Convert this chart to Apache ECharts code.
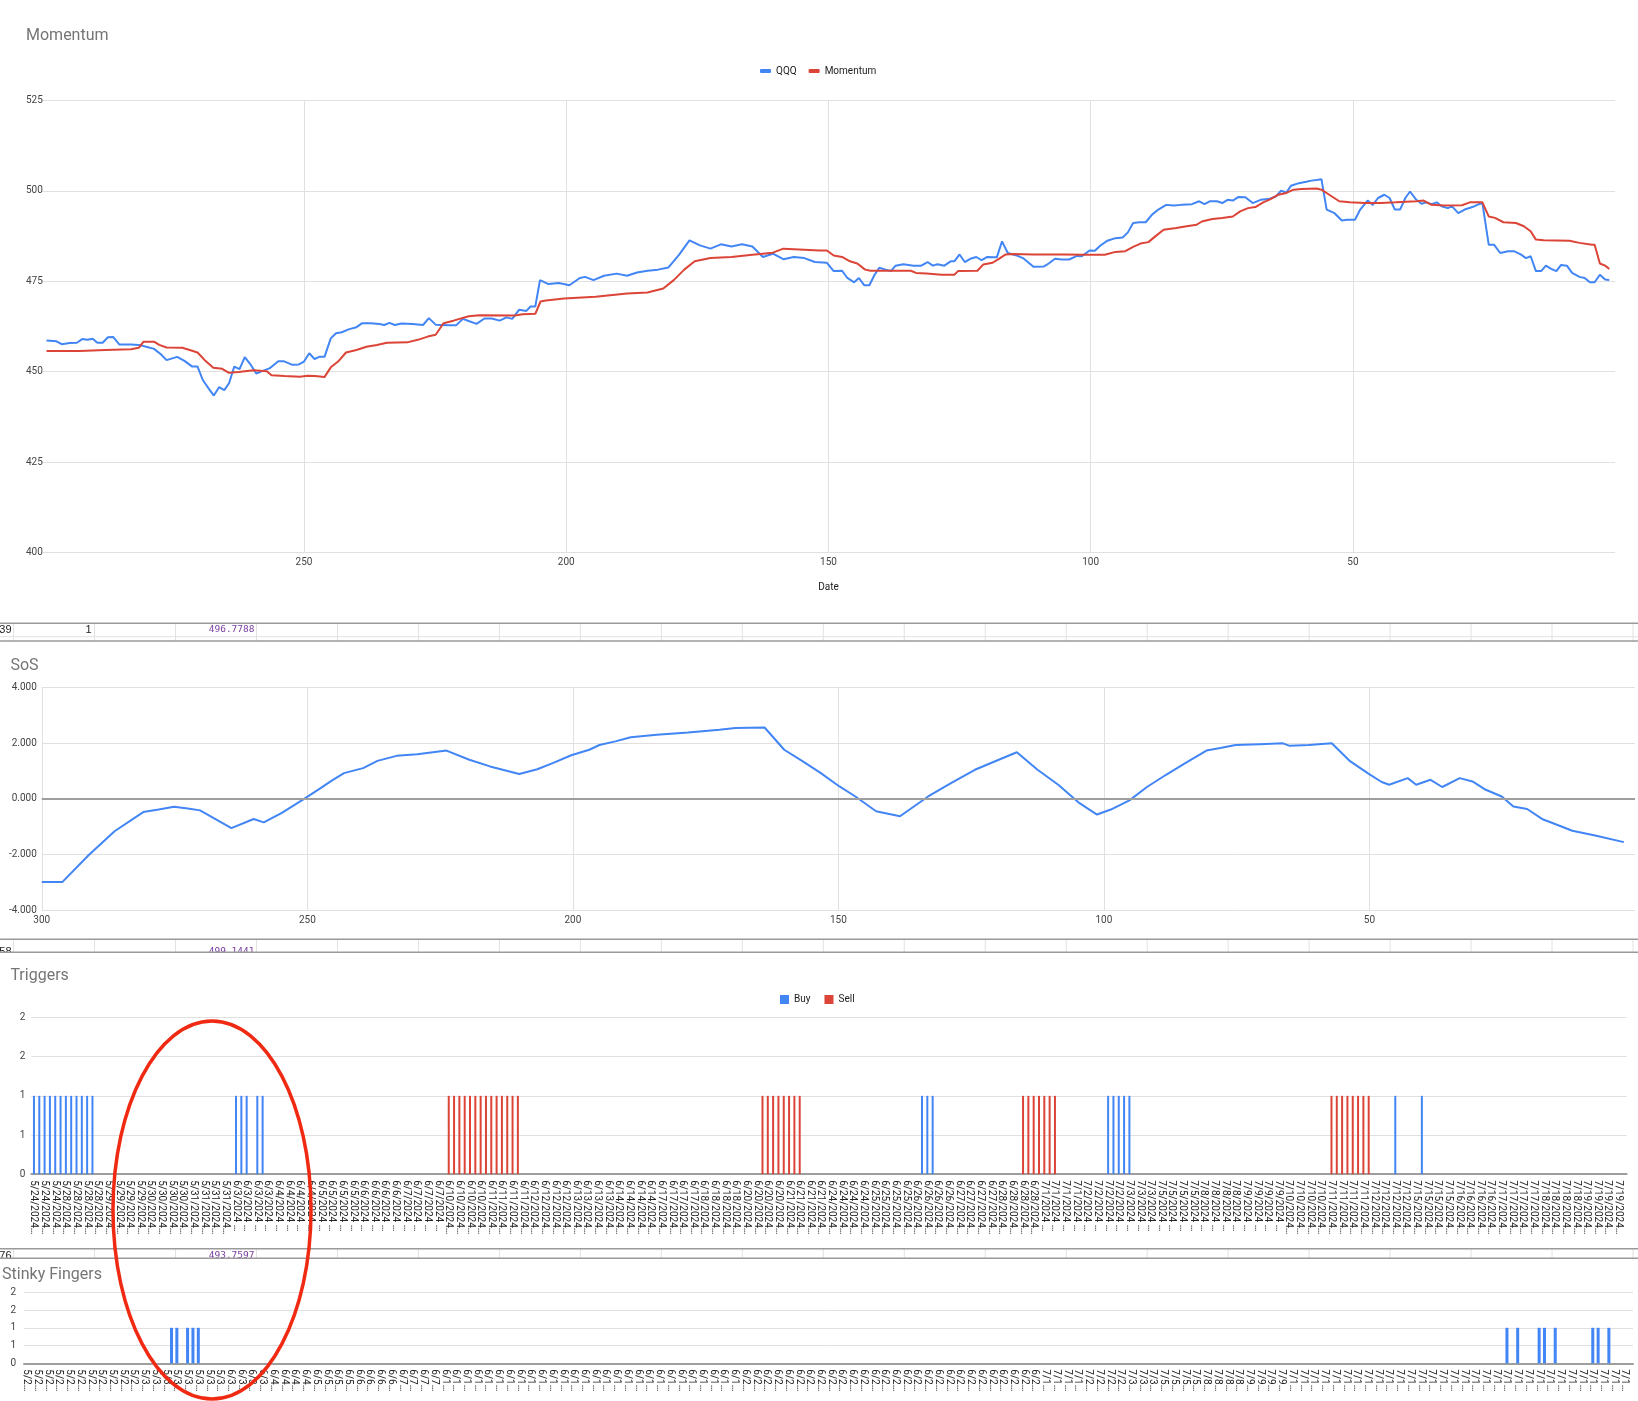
<!DOCTYPE html>
<html><head><meta charset="utf-8">
<script src="https://cdn.jsdelivr.net/npm/echarts@6/dist/echarts.min.js"></script>
<style>html,body{margin:0;padding:0;background:#fff}#c{width:1638px;height:1401px}</style>
</head><body><div id="c"></div>
<script>
// ---------- DATA ----------
// Momentum chart: [row, value]
const qqqPoints = [[299.1,458.6],[297.2,458.4],[296.2,457.6],[294.7,457.9],[293.3,458.0],[292.3,459.0],[291.3,458.8],[290.3,459.1],[289.4,458.0],[288.4,458.0],[287.4,459.5],[286.4,459.6],[285.2,457.5],[283.0,457.5],[281.5,457.4],[280.1,456.9],[278.6,456.3],[277.3,454.8],[276.2,453.2],[274.2,454.1],[272.8,453.0],[271.3,451.4],[270.3,451.4],[269.3,447.7],[268.2,445.4],[267.2,443.4],[266.2,445.7],[265.2,444.9],[264.3,446.8],[263.3,451.4],[262.3,450.7],[261.3,454.0],[260.1,451.8],[259.1,449.5],[258.1,450.1],[256.6,450.9],[254.9,452.9],[253.9,452.9],[252.2,451.9],[251.0,452.0],[250.0,452.8],[249.0,455.1],[248.0,453.5],[247.1,454.1],[246.1,454.1],[244.9,459.2],[243.9,460.6],[242.8,460.9],[241.5,461.7],[240.0,462.3],[238.9,463.4],[237.3,463.4],[235.6,463.2],[234.7,462.9],[233.7,463.5],[232.7,462.9],[231.4,463.3],[229.3,463.2],[227.3,462.9],[226.2,464.8],[224.9,463.0],[222.5,462.8],[221.0,462.8],[219.7,464.6],[218.6,464.0],[217.1,463.2],[215.6,464.7],[214.2,464.7],[212.7,464.1],[211.4,465.0],[210.3,464.6],[209.0,467.1],[207.6,466.8],[206.8,468.0],[205.9,468.0],[205.0,475.3],[203.4,474.2],[201.4,474.5],[199.4,473.9],[197.4,475.9],[196.4,476.2],[194.8,475.3],[192.8,476.5],[190.4,477.1],[188.4,476.5],[186.5,477.4],[184.5,477.9],[182.5,478.2],[180.5,478.8],[178.5,482.3],[176.5,486.3],[174.5,484.9],[172.5,484.0],[170.5,485.2],[168.5,484.6],[166.5,485.2],[164.5,484.6],[162.5,481.7],[160.6,482.6],[158.6,481.1],[156.6,481.7],[154.6,481.4],[152.6,480.3],[150.3,480.1],[149.0,477.8],[147.4,477.9],[146.4,475.9],[145.1,474.7],[144.2,475.9],[143.2,473.9],[142.2,473.9],[141.2,476.8],[140.3,478.7],[139.1,478.2],[138.1,477.8],[137.2,479.3],[135.7,479.7],[133.8,479.3],[132.3,479.3],[131.1,480.3],[130.1,479.3],[129.2,479.7],[127.9,479.3],[126.7,480.5],[126.0,480.5],[125.0,482.4],[124.0,480.3],[122.8,481.3],[121.8,481.7],[120.8,480.8],[119.7,481.7],[118.5,481.6],[117.9,481.6],[116.9,486.0],[115.8,482.8],[114.3,482.2],[112.8,481.3],[110.9,479.0],[108.9,479.1],[108.0,479.9],[106.8,481.2],[105.5,481.0],[104.1,481.0],[102.6,482.0],[101.7,481.9],[100.2,483.5],[99.2,483.4],[98.2,484.8],[96.8,486.2],[95.3,486.9],[93.9,487.1],[92.9,488.5],[91.9,491.1],[90.7,491.3],[89.5,491.3],[88.3,493.4],[87.1,494.8],[85.6,496.1],[84.1,495.9],[82.7,496.1],[80.7,496.3],[79.3,497.1],[78.3,496.3],[77.3,497.1],[75.9,497.1],[74.9,496.6],[73.9,497.5],[72.9,497.3],[71.8,498.3],[70.5,498.2],[69.1,496.6],[67.6,497.5],[66.1,497.7],[64.7,498.4],[63.7,500.0],[62.7,499.5],[61.8,501.4],[60.3,502.1],[58.9,502.5],[57.9,502.8],[56.9,503.0],[56.0,503.2],[55.0,494.8],[53.5,493.8],[52.1,491.8],[51.1,492.0],[49.6,492.0],[48.6,494.8],[47.2,497.3],[46.2,496.1],[45.2,498.0],[44.0,498.9],[43.0,498.0],[42.0,494.8],[41.0,494.8],[40.0,498.0],[39.1,499.8],[37.9,497.5],[36.9,496.4],[36.0,496.8],[35.0,496.3],[34.0,496.8],[33.1,495.7],[31.9,495.2],[31.1,495.7],[29.9,493.8],[28.7,494.8],[27.2,495.5],[26.3,496.1],[25.3,496.6],[24.1,485.1],[23.1,485.1],[21.9,482.8],[20.4,483.3],[19.3,483.3],[18.0,482.4],[17.0,481.4],[16.1,481.9],[15.1,477.8],[14.1,477.8],[13.2,479.3],[12.2,478.4],[11.2,477.8],[10.3,479.5],[9.2,479.3],[8.2,477.3],[6.8,476.2],[5.8,475.9],[4.8,474.7],[3.9,474.7],[2.9,476.8],[1.9,475.5],[1.1,475.3]];

const momentumPoints = [[299.1,455.7],[292.8,455.7],[287.9,456.0],[283.0,456.2],[281.5,456.6],[280.6,458.3],[278.6,458.3],[277.6,457.4],[276.2,456.7],[273.2,456.6],[271.8,456.0],[270.3,455.3],[268.8,453.0],[267.3,451.1],[265.6,450.8],[264.3,449.7],[262.5,449.9],[259.6,450.4],[257.1,450.1],[256.2,449.0],[253.7,448.8],[250.8,448.6],[249.3,448.9],[247.9,448.8],[246.1,448.5],[244.9,451.2],[243.5,452.8],[242.0,455.3],[240.0,456.0],[238.1,456.9],[236.1,457.4],[234.2,458.0],[230.3,458.1],[228.3,458.8],[226.4,459.7],[224.9,460.2],[223.4,463.4],[221.5,464.1],[218.6,465.3],[216.6,465.6],[209.8,465.5],[208.3,465.9],[205.9,466.0],[204.9,469.4],[203.9,469.7],[200.4,470.2],[194.4,470.7],[188.4,471.6],[184.5,471.9],[181.5,473.0],[179.5,475.3],[177.5,478.2],[175.5,480.5],[172.5,481.4],[168.5,481.7],[164.5,482.3],[160.6,482.9],[158.6,484.0],[154.6,483.7],[151.8,483.5],[150.3,483.5],[149.0,482.1],[147.4,481.7],[145.9,480.5],[144.5,479.9],[143.0,478.2],[142.0,477.9],[137.2,477.9],[134.3,477.9],[133.3,477.3],[131.3,477.1],[128.4,476.8],[126.0,476.8],[125.3,477.8],[121.6,477.9],[120.5,479.6],[118.7,480.1],[117.5,481.2],[116.2,482.4],[114.8,482.5],[110.9,482.4],[105.1,482.4],[101.2,482.3],[97.3,482.3],[95.3,483.1],[93.4,483.3],[91.9,484.5],[90.5,485.4],[89.0,485.8],[87.5,487.6],[86.1,489.2],[83.7,489.7],[81.7,490.2],[79.8,490.6],[78.8,491.5],[76.8,492.2],[74.9,492.5],[72.9,492.9],[71.5,494.3],[70.0,495.2],[68.6,495.5],[67.1,496.8],[65.7,497.7],[64.2,498.9],[62.7,499.4],[61.3,500.3],[59.8,500.5],[56.9,500.6],[56.0,500.3],[54.5,498.9],[52.6,497.1],[50.6,496.8],[47.7,496.6],[44.7,496.6],[41.8,496.8],[37.9,497.1],[36.5,497.3],[35.0,496.1],[32.6,495.9],[29.2,496.0],[27.7,496.8],[25.3,496.8],[24.1,492.9],[22.9,492.5],[21.3,491.3],[18.9,491.1],[17.4,490.2],[16.1,488.8],[15.1,486.5],[13.6,486.3],[8.7,486.2],[6.8,485.6],[4.4,485.1],[3.9,485.1],[2.9,479.9],[1.9,479.3],[1.1,478.4]];

// SoS chart: [row, value]
const sosPoints = [[300,-2.99],[296.1,-2.99],[291.2,-2.03],[286.3,-1.17],[280.9,-0.48],[278.0,-0.39],[275.1,-0.29],[272.5,-0.35],[270.2,-0.42],[264.3,-1.06],[260.1,-0.73],[258.2,-0.85],[254.8,-0.51],[250.9,-0.04],[248.0,0.32],[245.4,0.65],[243.1,0.92],[239.5,1.10],[236.8,1.36],[233.2,1.54],[229.3,1.60],[223.8,1.73],[219.5,1.40],[215.6,1.16],[210.1,0.89],[206.7,1.06],[203.8,1.28],[200.3,1.56],[196.9,1.76],[195.0,1.93],[192.0,2.06],[189.1,2.21],[184.2,2.30],[178.3,2.38],[172.4,2.48],[169.4,2.54],[163.9,2.56],[160.2,1.76],[156.7,1.34],[153.3,0.92],[149.8,0.44],[146.8,0.08],[142.9,-0.45],[138.4,-0.63],[133.1,0.08],[128.8,0.56],[124.3,1.04],[119.8,1.40],[116.4,1.67],[112.5,1.04],[108.6,0.50],[104.6,-0.16],[101.3,-0.57],[98.7,-0.39],[95.2,-0.06],[91.9,0.42],[88.3,0.86],[85.0,1.24],[80.7,1.73],[78.1,1.82],[75.2,1.93],[70.7,1.96],[66.3,1.99],[65.0,1.90],[61.4,1.93],[57.1,1.99],[53.6,1.34],[50.2,0.90],[47.7,0.60],[46.3,0.50],[42.8,0.74],[41.2,0.50],[38.5,0.68],[36.3,0.42],[33.0,0.74],[30.6,0.62],[28.1,0.32],[25.1,0.08],[22.9,-0.28],[20.3,-0.37],[17.3,-0.75],[16.4,-0.81],[11.8,-1.15],[7.5,-1.32],[2.1,-1.56]];

// Triggers / Stinky Fingers categories (hourly bars per trading day)
const tradingDays = ['5/24/2024','5/28/2024','5/29/2024','5/30/2024','5/31/2024','6/3/2024','6/4/2024','6/5/2024','6/6/2024','6/7/2024','6/10/2024','6/11/2024','6/12/2024','6/13/2024','6/14/2024','6/17/2024','6/18/2024','6/20/2024','6/21/2024','6/24/2024','6/25/2024','6/26/2024','6/27/2024','6/28/2024','7/1/2024','7/2/2024','7/3/2024','7/5/2024','7/8/2024','7/9/2024','7/10/2024','7/11/2024','7/12/2024','7/15/2024','7/16/2024','7/17/2024','7/18/2024','7/19/2024'];
const barsPerDay = [6,8,8,8,8,8,8,8,8,8,8,8,8,8,8,8,8,8,8,8,8,8,8,8,8,8,6,8,8,8,8,8,8,8,8,8,8,8];
const sessionTimes = ['10:00:00','11:00:00','12:00:00','13:00:00','14:00:00','15:00:00','15:30:00','16:00:00'];
const buyIndex = [0,1,2,3,4,5,6,7,8,9,10,11,38,39,40,42,43,167,168,169,202,203,204,205,206,256,261];
const sellIndex = [78,79,80,81,82,83,84,85,86,87,88,89,90,91,137,138,139,140,141,142,143,144,186,187,188,189,190,191,192,244,245,246,247,248,249,250,251];
const stinkyIndex = [27,28,30,31,32,276,278,282,283,285,292,293,295];

// Visible spreadsheet cells between the charts
const sheetRows = [['39','1','496.7788'],['58','','499.1441'],['76','','493.7597']];

// ---------- BUILD ----------
const categories = [];
tradingDays.forEach((d, i) => {
  const n = barsPerDay[i];
  const times = i === 0 ? sessionTimes.slice(8 - n) : sessionTimes.slice(0, n);
  times.forEach(t => categories.push(d + ' ' + t));
});
function flags(idx) { const a = categories.map(() => '-'); idx.forEach(i => { a[i] = 1; }); return a; }

const GRID = '#e0e0e0';
const LBL = '#444';
const FONT = 'Roboto, "Liberation Sans", Arial, sans-serif';
const BLUE = '#4285f4', RED = '#db4437';

const chart = echarts.init(document.getElementById('c'), null, {renderer: 'canvas'});

function titleAt(text, left, cy) {
  return {text, left, top: cy - 7.5, padding: 0,
    textStyle: {fontSize: 16, fontWeight: 'normal', color: '#757575', lineHeight: 18, fontFamily: FONT}};
}
function rowAxis(grid, hideMax) {
  return {type: 'value', gridIndex: grid, min: 0, max: 300, interval: 50, inverse: true,
    axisLine: {show: false}, axisTick: {show: false},
    axisLabel: {color: LBL, fontSize: 10, margin: 5, fontFamily: FONT,
      formatter: v => (v === 0 || (hideMax && v === 300)) ? '' : String(v)},
    splitLine: {show: true, showMinLine: false, showMaxLine: !hideMax, lineStyle: {color: GRID, width: 1}}};
}
function catAxis(grid, w) {
  return {type: 'category', gridIndex: grid, data: categories, boundaryGap: true,
    axisLine: {show: true, lineStyle: {color: '#9e9e9e', width: 2}}, axisTick: {show: false},
    axisLabel: {interval: 1, rotate: -90, fontSize: 10, color: '#222', fontFamily: FONT, margin: 6,
      width: w, overflow: 'truncate', ellipsis: '…'},
    splitLine: {show: false}};
}
function flagAxis(grid, margin) {
  return {type: 'value', gridIndex: grid, min: 0, max: 2, interval: 0.5,
    axisLine: {show: false}, axisTick: {show: false},
    axisLabel: {color: LBL, fontSize: 10, margin, fontFamily: FONT, formatter: v => String(Math.round(v))},
    splitLine: {lineStyle: {color: GRID}}};
}

// spreadsheet strips graphics
const graphics = [];
const cellX = [];
for (let k = 0; k <= 20; k++) cellX.push(13.6 + 80.97 * k);
function strip(y0, y1, rowLineY, textY, row, clip) {
  cellX.forEach(x => graphics.push({type: 'line', z: 40, shape: {x1: x, y1: y0, x2: x, y2: y1}, style: {stroke: '#e2e2e2', lineWidth: 1}}));
  if (rowLineY) graphics.push({type: 'line', z: 40, shape: {x1: 0, y1: rowLineY, x2: 1638, y2: rowLineY}, style: {stroke: '#e2e2e2', lineWidth: 1}});
  graphics.push({type: 'text', z: 50, x: 11.5, y: textY, style: {text: row[0], fill: '#222', font: '11px "Liberation Sans", Arial', textAlign: 'right', align: 'right', textVerticalAlign: 'middle', verticalAlign: 'middle'}});
  if (row[1]) graphics.push({type: 'text', z: 50, x: 91.5, y: textY, style: {text: row[1], fill: '#222', font: '11px "Liberation Sans", Arial', textAlign: 'right', align: 'right', textVerticalAlign: 'middle', verticalAlign: 'middle'}});
  graphics.push({type: 'text', z: 50, x: 254.5, y: textY, style: {text: row[2], fill: '#7b3fa0', font: '9.5px "DejaVu Sans Mono", monospace', textAlign: 'right', align: 'right', textVerticalAlign: 'middle', verticalAlign: 'middle'}});
  if (clip) graphics.push({type: 'rect', z: 60, shape: {x: 0, y: y1, width: 1638, height: 8}, style: {fill: '#fff'}});
  graphics.push({type: 'line', z: 70, shape: {x1: 0, y1: y0, x2: 1638, y2: y0}, style: {stroke: '#9a9a9a', lineWidth: 1.5}});
  graphics.push({type: 'line', z: 70, shape: {x1: 0, y1: y1, x2: 1638, y2: y1}, style: {stroke: '#9a9a9a', lineWidth: 1.5}});
}
strip(623.3, 641, 636.7, 629.5, sheetRows[0], false);
strip(939.3, 952.3, null, 952, sheetRows[1], true);
strip(1248.8, 1258.2, null, 1255.5, sheetRows[2], true);
graphics.push({type: 'ellipse', z: 200, shape: {cx: 212, cy: 1210, rx: 99, ry: 189},
  style: {fill: 'none', stroke: '#f02a12', lineWidth: 3.5}});

const option = {
  animation: false,
  backgroundColor: '#fff',
  textStyle: {fontFamily: FONT},
  title: [
    titleAt('Momentum', 26, 34.5),
    titleAt('SoS', 10.4, 664.4),
    titleAt('Triggers', 10.4, 974.7),
    titleAt('Stinky Fingers', 2.1, 1273.5)
  ],
  legend: [
    {data: ['QQQ', 'Momentum'], left: 760, top: 65, padding: 0, itemGap: 12,
      itemWidth: 11, itemHeight: 4, icon: 'roundRect',
      textStyle: {fontSize: 10, color: '#222', lineHeight: 12, fontFamily: FONT}},
    {data: ['Buy', 'Sell'], left: 780, top: 993.5, padding: 0, itemGap: 14,
      itemWidth: 9, itemHeight: 9, icon: 'rect',
      textStyle: {fontSize: 10, color: '#222', lineHeight: 12, fontFamily: FONT}}
  ],
  grid: [
    {left: 41.8, top: 100.3, width: 1573.3, height: 452.3},
    {left: 41.8, top: 687.4, width: 1595.9, height: 222.6},
    {left: 31.3, top: 1017.5, width: 1595.3, height: 156.7},
    {left: 24, top: 1292.3, width: 1609, height: 71}
  ],
  xAxis: [
    Object.assign(rowAxis(0, true), {name: 'Date', nameLocation: 'middle', nameGap: 30,
      nameTextStyle: {fontSize: 10, color: '#222', fontFamily: FONT}}),
    rowAxis(1, false),
    catAxis(2, 58),
    catAxis(3, 24)
  ],
  yAxis: [
    {type: 'value', gridIndex: 0, min: 400, max: 525, interval: 25,
      axisLine: {show: false}, axisTick: {show: false},
      axisLabel: {color: LBL, fontSize: 10, margin: -1, fontFamily: FONT},
      splitLine: {lineStyle: {color: GRID}}},
    {type: 'value', gridIndex: 1, min: -4, max: 4, interval: 2,
      axisLine: {show: false}, axisTick: {show: false},
      axisLabel: {color: LBL, fontSize: 10, margin: 5, fontFamily: FONT, formatter: v => v.toFixed(3)},
      splitLine: {lineStyle: {color: GRID}}},
    flagAxis(2, 6),
    flagAxis(3, 8)
  ],
  series: [
    {name: 'QQQ', type: 'line', xAxisIndex: 0, yAxisIndex: 0, data: qqqPoints,
      showSymbol: false, color: BLUE, lineStyle: {width: 2}, z: 3},
    {name: 'Momentum', type: 'line', xAxisIndex: 0, yAxisIndex: 0, data: momentumPoints,
      showSymbol: false, color: RED, lineStyle: {width: 2}, z: 4},
    {name: 'SoS', type: 'line', xAxisIndex: 1, yAxisIndex: 1, data: sosPoints,
      showSymbol: false, color: BLUE, lineStyle: {width: 2},
      markLine: {silent: true, symbol: 'none', label: {show: false},
        lineStyle: {color: '#9e9e9e', width: 2, type: 'solid'}, data: [{yAxis: 0}]}},
    {name: 'Buy', type: 'bar', xAxisIndex: 2, yAxisIndex: 2, data: flags(buyIndex),
      color: BLUE, barWidth: 2, barGap: '-100%'},
    {name: 'Sell', type: 'bar', xAxisIndex: 2, yAxisIndex: 2, data: flags(sellIndex),
      color: RED, barWidth: 2, barGap: '-100%'},
    {name: 'Stinky Fingers', type: 'bar', xAxisIndex: 3, yAxisIndex: 3, data: flags(stinkyIndex),
      color: BLUE, barWidth: 3}
  ],
  graphic: graphics
};
chart.setOption(option);
</script>
</body></html>
